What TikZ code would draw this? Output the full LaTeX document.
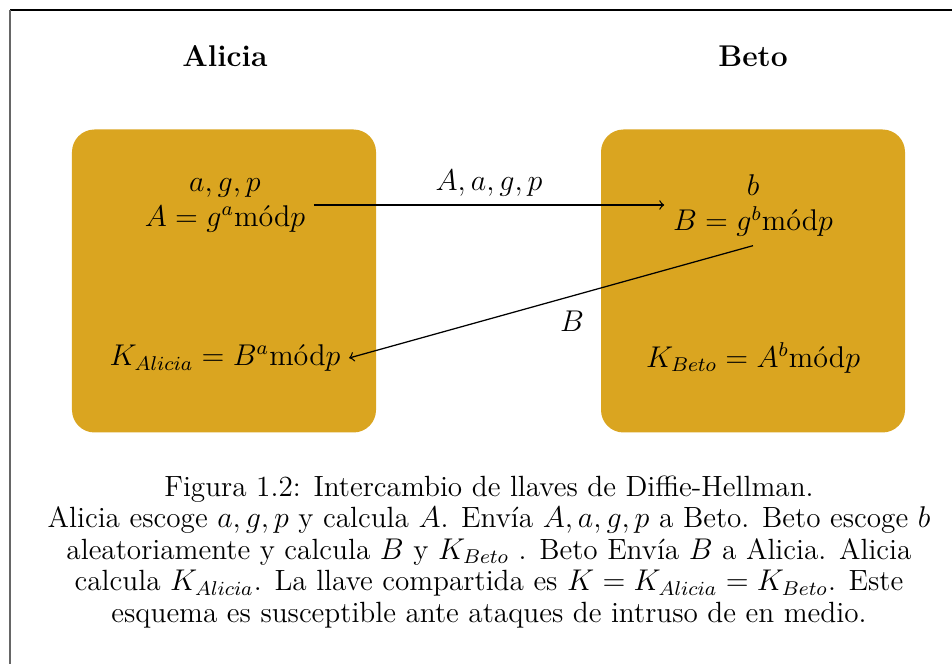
\documentclass[tikz,border=0pt]{standalone}
\usepackage{amsmath}
\definecolor{dorado}{RGB}{218,165,32}
\begin{document}
\begin{tikzpicture}[x=0.4pt,y=-0.4pt,
caja/.style={fill=dorado, rounded corners=9pt, minimum width=121.6pt, minimum height=121.2pt, inner sep=0pt},
nombre/.style={font=\large\bfseries},
formula/.style={font=\large, align=center},
flecha/.style={->, line width=0.5pt}]
\useasboundingbox (0,0) rectangle (952,664);
\def\xA{225}
\def\xB{753}

% marco
\draw[line width=0.6pt] (952,10) -- (10,10);
\draw[line width=0.7pt, black!60] (10,10) -- (10,664);

\node[nombre] (alicia) at (\xA,56) {Alicia};
\node[nombre] (beto) at (\xB,56) {Beto};

\node[caja] (cajaA) at (224,281) {};
\node[caja] (cajaB) at (753,281) {};

\node[formula] (altaA) at (\xA,205) {$a, g, p$\\ $A = g^a\text{mód}p$};
\node[formula] (altaB) at (\xB,206) {$b$\\ $B = g^b\text{mód}p$};
\node[formula] (bajaA) at (\xA,358) {$K_{Alicia} = B^a\text{mód}p$};
\node[formula] (bajaB) at (\xB,358) {$K_{Beto} = A^b\text{mód}p$};

\draw[flecha] (altaA.east) -- (altaA.east -| altaB.west) node[midway, above, font=\large] {$A, a, g, p$};
\draw[flecha] (altaB.south) -- (bajaA.east) node[midway, below right, font=\large] {$B$};

\node[align=center, font=\fontsize{11.7}{12.6}\selectfont] (pie) at (489,552) {Figura 1.2: Intercambio de llaves de Diffie-Hellman.\\
Alicia escoge $a, g, p$ y calcula $A$. Envía $A, a, g, p$ a Beto. Beto escoge $b$\\
aleatoriamente y calcula $B$ y $K_{Beto}$ . Beto Envía $B$ a Alicia. Alicia\\
calcula $K_{Alicia}$. La llave compartida es $K = K_{Alicia} = K_{Beto}$. Este\\
esquema es susceptible ante ataques de intruso de en medio.};

\end{tikzpicture}
\end{document}
